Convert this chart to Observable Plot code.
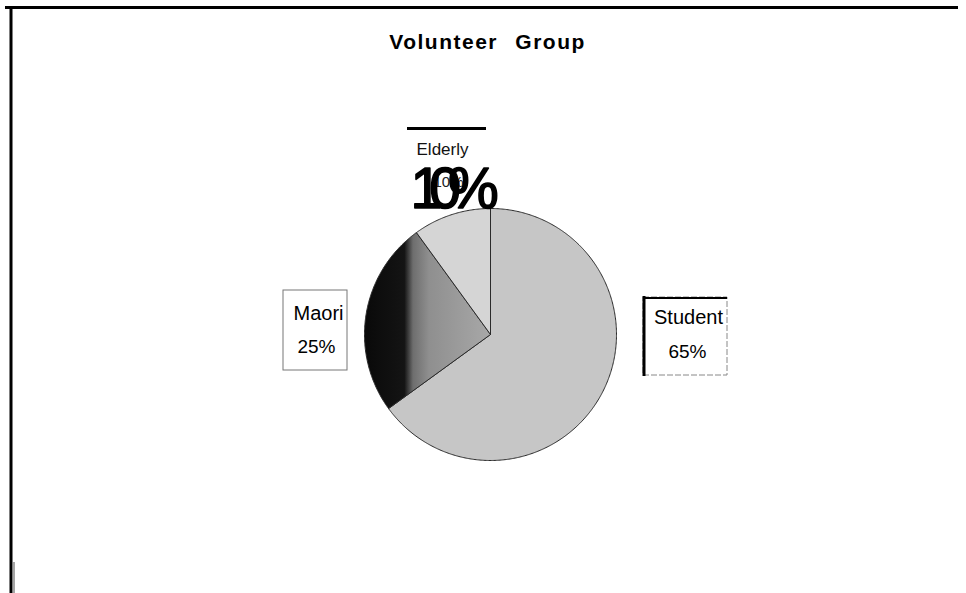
<!DOCTYPE html>
<html><head><meta charset="utf-8">
<script src="https://cdn.jsdelivr.net/npm/d3@7"></script>
<script src="https://cdn.jsdelivr.net/npm/@observablehq/plot@0.6"></script>
<style>body{margin:0;background:#fff}svg{display:block}</style>
</head><body><div id="chart"></div>
<script>
// ---- data ----
const categories = ["Student", "Maori", "Elderly"];
const shares = [65, 25, 10];
const shareLabels = ["65%", "25%", "10%"];
const title = "Volunteer Group";

// ---- layout (pixels) ----
const W = 966, H = 593, CX = 490, CY = 334, R = 126;
const px = v => (v - CX) / R, py = v => (CY - v) / R;
const fills = ["#c6c6c6", "url(#maoriFill)", "#d5d5d5"];
const FONT = "Liberation Sans, Arial, sans-serif";

// slices through d3.pie (clockwise from 12 o'clock)
const arcs = d3.pie().sort(null).value(d => d.share)(
  categories.map((c, i) => ({cat: c, share: shares[i], label: shareLabels[i]})));
const pts = [];
for (const s of arcs) {
  const n = Math.ceil((s.endAngle - s.startAngle) / 0.01);
  pts.push({cat: s.data.cat, x: 0, y: 0});
  for (let k = 0; k <= n; k++) {
    const a = s.startAngle + (s.endAngle - s.startAngle) * k / n;
    pts.push({cat: s.data.cat, x: Math.sin(a), y: Math.cos(a)});
  }
  pts.push({cat: s.data.cat, x: 0, y: 0});
}
const byCat = Object.fromEntries(arcs.map(a => [a.data.cat, a.data]));

const chart = Plot.plot({
  width: W, height: H, margin: 0,
  x: {domain: [px(0), px(W)], axis: null},
  y: {domain: [py(H), py(0)], axis: null},
  color: {domain: categories, range: fills},
  style: {fontFamily: FONT, background: "#fff"},
  marks: [
    // page frame
    Plot.ruleY([py(7)], {x1: px(5), x2: px(958), stroke: "#000", strokeWidth: 3}),
    Plot.ruleX([px(10.5)], {y1: py(6), y2: py(H), stroke: "#000", strokeWidth: 3}),
    Plot.ruleX([px(13.5)], {y1: py(562), y2: py(H), stroke: "#888", strokeWidth: 1.5}),
    // pie
    Plot.line(pts, {x: "x", y: "y", z: "cat", fill: "cat", stroke: "#2a2a2a", strokeWidth: 1, strokeLinejoin: "round"}),
    // title
    Plot.text([title], {x: px(487), y: py(48), text: d => d, fontSize: 21, fontWeight: "bold", textAnchor: "middle", lineAnchor: "bottom", fill: "#000"}),
    // Elderly label
    Plot.ruleY([py(128)], {x1: px(407), x2: px(486), stroke: "#000", strokeWidth: 3}),
    Plot.text([byCat.Elderly], {x: px(442), y: py(154), text: "cat", fontSize: 17, textAnchor: "middle", lineAnchor: "bottom", fill: "#111"}),
    Plot.text([byCat.Elderly], {x: px(433), y: py(186), text: "label", fontSize: 15, textAnchor: "start", lineAnchor: "bottom", fill: "#222"}),
    Plot.text([byCat.Elderly], {x: px(410), y: py(207), text: "label", fontSize: 57, textAnchor: "start", lineAnchor: "bottom", fill: "#000", stroke: "#000", strokeWidth: 1.6}),
    // Maori box
    Plot.rect([byCat.Maori], {x1: px(283), x2: px(347), y1: py(370), y2: py(290), fill: "#fff", stroke: "#777", strokeWidth: 1}),
    Plot.text([byCat.Maori], {x: px(318), y: py(319), text: "cat", fontSize: 20, textAnchor: "middle", lineAnchor: "bottom", fill: "#000"}),
    Plot.text([byCat.Maori], {x: px(316), y: py(352), text: "label", fontSize: 19, textAnchor: "middle", lineAnchor: "bottom", fill: "#000"}),
    // Student box
    Plot.rect([byCat.Student], {x1: px(643), x2: px(727), y1: py(375), y2: py(297), fill: "#fff", stroke: "#888", strokeWidth: 1, strokeDasharray: "6,2"}),
    Plot.ruleX([px(643.5)], {y1: py(296), y2: py(376), stroke: "#000", strokeWidth: 3}),
    Plot.ruleY([py(297.5)], {x1: px(643), x2: px(727), stroke: "#000", strokeWidth: 2}),
    Plot.text([byCat.Student], {x: px(688), y: py(323), text: "cat", fontSize: 20, textAnchor: "middle", lineAnchor: "bottom", fill: "#000"}),
    Plot.text([byCat.Student], {x: px(687), y: py(357), text: "label", fontSize: 19, textAnchor: "middle", lineAnchor: "bottom", fill: "#000"})
  ]
});

// gradient for the dark Maori slice
const svg = d3.select(chart);
const grad = svg.insert("defs", ":first-child").append("linearGradient")
  .attr("id", "maoriFill").attr("gradientUnits", "userSpaceOnUse")
  .attr("x1", 367).attr("y1", 0).attr("x2", 490).attr("y2", 0);
[[0, "#0a0a0a"], [0.3, "#141414"], [0.37, "#6e6e6e"], [0.5, "#8f8f8f"], [1, "#a8a8a8"]]
  .forEach(([o, c]) => grad.append("stop").attr("offset", o).attr("stop-color", c));

// text styling tweaks
svg.selectAll("text").filter(function(){return this.textContent === title;})
  .style("letter-spacing", "1.5px").style("word-spacing", "10px");
svg.selectAll("g[font-size='57'] text").style("letter-spacing", "-13px");

document.getElementById("chart").append(chart);
</script>
</body></html>
